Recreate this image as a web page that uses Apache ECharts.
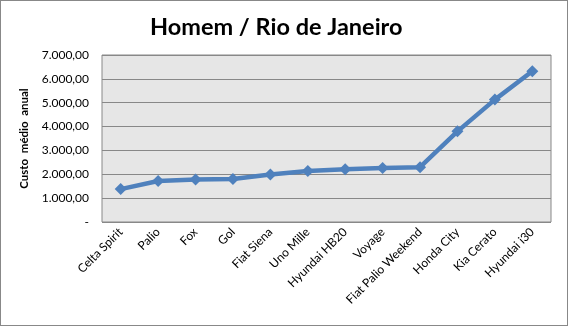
<!DOCTYPE html>
<html>
<head>
<meta charset="utf-8">
<script src="https://cdn.jsdelivr.net/npm/echarts@6/dist/echarts.min.js"></script>
<style>
html,body{margin:0;padding:0;background:#fff;}
#wrap{position:absolute;left:0;top:0;width:566px;height:324px;border:1px solid #888;}
#c{width:566px;height:324px;}
</style>
</head>
<body>
<div id="wrap"><div id="c"></div></div>
<script>
const categories = ["Celta Spirit","Palio","Fox","Gol","Fiat Siena","Uno Mille","Hyundai HB20","Voyage","Fiat Palio Weekend","Honda City","Kia Cerato","Hyundai i30"];
const values = [1380, 1720, 1780, 1800, 1990, 2140, 2210, 2260, 2300, 3800, 5130, 6320];
const title = "Homem / Rio de Janeiro";
const yName = "Custo  médio  anual";
const yMin = 0, yMax = 7000, yStep = 1000;

function fmt(v){
  if (v === 0) return "-";
  const s = v.toFixed(2).split(".");
  return s[0].replace(/\B(?=(\d{3})+(?!\d))/g, ".") + "," + s[1];
}

const chart = echarts.init(document.getElementById('c'));
chart.setOption({
  animation:false,
  title:{text:title,left:144,top:9,textStyle:{fontFamily:'Lato',fontWeight:'bold',fontSize:23.5,color:'#000'}},
  grid:{left:101,right:16,top:54,bottom:103,show:true,backgroundColor:'#e6e6e6',borderColor:'#888',borderWidth:1},
  xAxis:{type:'category',data:categories,boundaryGap:true,
    axisLine:{show:false},axisTick:{show:false},
    axisLabel:{rotate:45,interval:0,margin:8,fontFamily:'Lato',fontSize:12,color:'#000'}},
  yAxis:{type:'value',min:yMin,max:yMax,interval:yStep,
    name:yName,nameLocation:'middle',nameRotate:90,nameGap:60,
    nameTextStyle:{fontFamily:'Lato',fontWeight:'bold',fontSize:11.5,color:'#000'},
    axisLine:{show:false},axisTick:{show:false},
    splitLine:{lineStyle:{color:'#888',width:1}},
    axisLabel:{formatter:fmt,margin:13,fontFamily:'Lato',fontSize:12,color:'#000'}},
  series:[{type:'line',data:values,symbol:'diamond',symbolSize:12,
    lineStyle:{color:'#4f81bd',width:4.5},itemStyle:{color:'#4f81bd'}}]
});
</script>
</body>
</html>
